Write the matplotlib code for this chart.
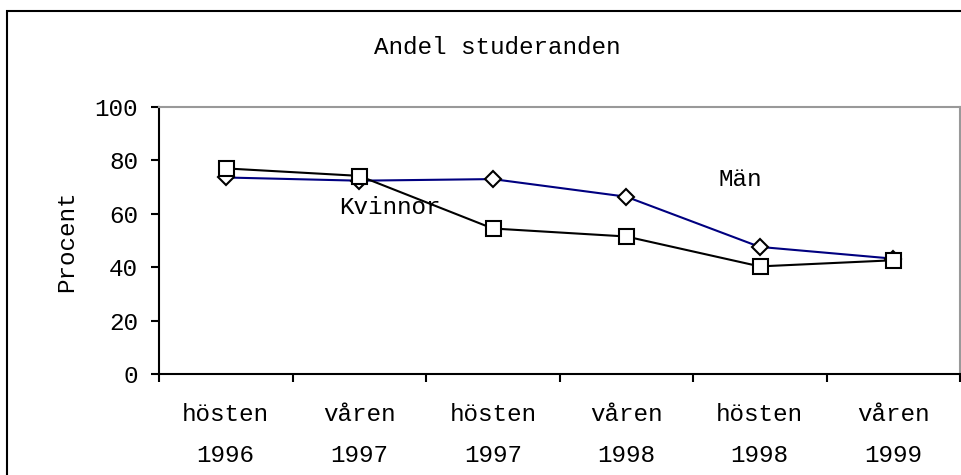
import matplotlib
matplotlib.use("Agg")
import matplotlib.pyplot as plt
from matplotlib.patches import Rectangle

categories = ["hösten\n1996", "våren\n1997", "hösten\n1997", "våren\n1998", "hösten\n1998", "våren\n1999"]
man = [73.6, 72.4, 73.0, 66.4, 47.6, 43.2]
kvinnor = [77.0, 74.2, 54.5, 51.5, 40.3, 42.6]
yticks = [0, 20, 40, 60, 80, 100]

FONT = "Liberation Mono"
FS = 17.5

fig = plt.figure(figsize=(9.61, 4.75), dpi=100)
fig.patch.set_facecolor("white")
ax = fig.add_axes([159/961, (475-374)/475, (960-159)/961, (374-107)/475])

x = list(range(1, len(categories) + 1))
ax.plot(x, man, color="#000080", lw=1.5, marker="D", ms=8.5,
        mfc="white", mec="black", mew=1.5, zorder=3)
ax.plot(x, kvinnor, color="black", lw=1.5, marker="s", ms=10.8,
        mfc="white", mec="black", mew=1.5, zorder=4)

ax.set_xlim(0.5, len(categories) + 0.5)
ax.set_ylim(0, 100)
ax.set_yticks(yticks)
ax.set_yticklabels([str(v) for v in yticks], fontfamily=FONT, fontsize=FS)
ax.set_xticks([i + 0.5 for i in range(len(categories) + 1)])
ax.set_xticklabels([])
ax.set_xticks(x, minor=True)
ax.set_xticklabels(categories, minor=True, fontfamily=FONT, fontsize=FS, linespacing=2.0)
ax.tick_params(axis="x", which="minor", length=0, pad=21)
ax.tick_params(axis="both", which="major", direction="out", length=6, width=1.5, color="black")
ax.tick_params(axis="y", pad=9)

for s in ["left", "bottom"]:
    ax.spines[s].set_color("black")
    ax.spines[s].set_linewidth(1.5)
for s in ["top", "right"]:
    ax.spines[s].set_color("#999999")
    ax.spines[s].set_linewidth(1.5)

def fig_text(px, py, s, **kw):
    fig.text(px / 961, 1 - py / 475, s, fontfamily=FONT, fontsize=FS,
             ha="center", va="center", **kw)

fig_text(740, 179, "Män")
fig_text(390, 207, "Kvinnor")
fig_text(497, 48, "Andel studeranden")
fig_text(67, 241, "Procent", rotation=90)

fig.patches.append(Rectangle((7/961, -0.1), 1.2, 1 - 11/475 + 0.1, transform=fig.transFigure,
                             fill=False, edgecolor="black", lw=1.5, figure=fig))

fig.savefig("out.png", dpi=100)
